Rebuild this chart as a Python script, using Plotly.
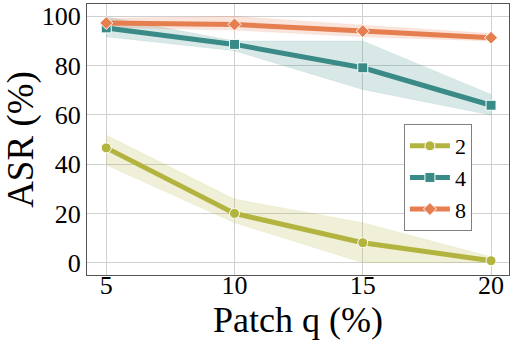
import plotly.graph_objects as go

patch_q = [5, 10, 15, 20]

labels = ["2", "4", "8"]
asr_mean = {
    "2": [46.6, 20.0, 8.1, 0.8],
    "4": [95.3, 88.6, 79.1, 63.9],
    "8": [97.3, 96.7, 94.0, 91.3],
}
asr_low = {
    "2": [39.6, 16.2, 0.0, 0.0],
    "4": [91.7, 86.0, 70.3, 59.9],
    "8": [95.5, 94.4, 91.7, 90.0],
}
asr_high = {
    "2": [51.8, 25.8, 16.2, 2.4],
    "4": [99.8, 90.0, 90.0, 68.3],
    "8": [99.1, 100.0, 96.4, 93.0],
}

colors = {"2": "#b3b43f", "4": "#3a8a87", "8": "#e67f50"}
fills = {"2": "rgba(179,180,63,0.2)", "4": "rgba(58,138,135,0.2)", "8": "rgba(230,127,80,0.2)"}
symbols = {"2": "circle", "4": "square", "8": "diamond"}

SERIF = "Liberation Serif, Times New Roman, serif"

fig = go.Figure()

# shaded bands first
for k in labels:
    fig.add_trace(go.Scatter(
        x=patch_q + patch_q[::-1],
        y=asr_high[k] + asr_low[k][::-1],
        mode="lines", fill="toself", fillcolor=fills[k],
        line=dict(color=fills[k], width=0.5),
        hoverinfo="skip", showlegend=False,
    ))

for k in labels:
    fig.add_trace(go.Scatter(
        x=patch_q, y=asr_mean[k], name=k, mode="lines+markers",
        line=dict(color=colors[k], width=5),
        marker=dict(symbol=symbols[k], size=10, color=colors[k],
                    line=dict(color="white", width=1)),
    ))

fig.update_xaxes(
    range=[4.25, 20.7], tickvals=patch_q, automargin=False,
    showgrid=True, gridcolor="#d0d0d0", gridwidth=1,
    showline=True, linecolor="#555555", linewidth=1, mirror=True,
    ticks="", zeroline=False, ticklabelstandoff=-13,
    tickfont=dict(family=SERIF, size=26, color="black"),
    title=dict(text="Patch q (%)", standoff=2,
               font=dict(family=SERIF, size=36, color="black")),
)
fig.update_yaxes(
    range=[-5, 105], tickvals=[0, 20, 40, 60, 80, 100], automargin=False,
    showgrid=True, gridcolor="#d0d0d0", gridwidth=1,
    showline=True, linecolor="#555555", linewidth=1, mirror=True,
    ticks="", zeroline=False,
    tickfont=dict(family=SERIF, size=26, color="black"),
    title=dict(text="ASR (%)", font=dict(family=SERIF, size=37, color="black")),
)

fig.update_layout(
    width=515, height=345,
    margin=dict(l=87, r=6, t=4, b=70),
    plot_bgcolor="white", paper_bgcolor="white",
    font=dict(family=SERIF, color="black"),
    legend=dict(x=0.751, y=0.557, xanchor="left", yanchor="top",
                bordercolor="#808080", borderwidth=1, bgcolor="white",
                font=dict(family=SERIF, size=22), itemwidth=40, tracegroupgap=0),
)

# drop the browser's default body margin so the figure sits at the page corner
fig.write_html("out.html", config={"displayModeBar": False},
               post_script="document.body.style.margin='0';")
